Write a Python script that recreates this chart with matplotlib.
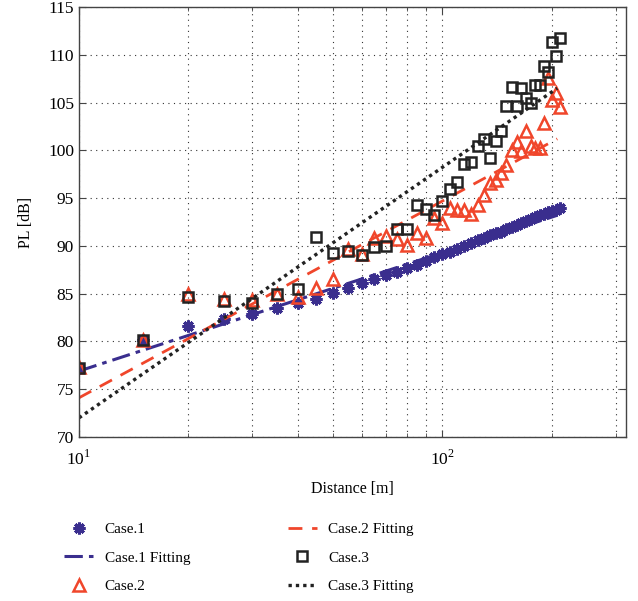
import matplotlib
matplotlib.use("Agg")
import matplotlib.pyplot as plt
from matplotlib.ticker import LogLocator, NullFormatter, FixedLocator

plt.rcParams["font.family"] = ["Liberation Serif", "DejaVu Serif"]
plt.rcParams["mathtext.fontset"] = "custom"
plt.rcParams["mathtext.rm"] = "Liberation Serif"

# distance grid [m]
dist = [10, 15, 20, 25, 30, 35, 40, 45, 50, 55, 60, 65, 70, 75, 80, 85, 90, 95, 100,
        105, 110, 115, 120, 125, 130, 135, 140, 145, 150, 155, 160, 165, 170, 175,
        180, 185, 190, 195, 200, 205, 210]

case1 = [77.2, 80.1, 81.6, 82.3, 82.9, 83.5, 84.0, 84.4, 85.1, 85.6, 86.1, 86.5, 86.9,
         87.3, 87.7, 88.0, 88.4, 88.8, 89.1, 89.4, 89.7, 90.0, 90.3, 90.6, 90.8, 91.1,
         91.3, 91.5, 91.8, 92.0, 92.2, 92.4, 92.6, 92.8, 93.0, 93.2, 93.3, 93.5, 93.7,
         93.8, 94.0]

case2 = [77.3, 80.2, 85.0, 84.4, 84.3, 85.0, 84.7, 85.6, 86.5, 89.7, 89.2, 90.8, 91.0,
         90.7, 90.1, 91.3, 90.8, 92.9, 92.4, 94.0, 93.8, 93.8, 93.3, 94.3, 95.3, 96.6,
         96.9, 97.6, 98.5, 100.0, 100.9, 99.9, 102.0, 100.5, 100.2, 100.2, 102.9, 107.6,
         105.3, 106.0, 104.5]

case3 = [77.2, 80.1, 84.7, 84.25, 84.05, 85.0, 85.5, 90.9, 89.3, 89.5, 89.0, 89.9, 90.0,
         91.8, 91.8, 94.3, 93.9, 93.2, 94.7, 96.0, 96.7, 98.6, 98.8, 100.4, 101.2, 99.2,
         101.0, 102.0, 104.6, 106.6, 104.6, 106.5, 105.5, 104.9, 106.8, 106.8, 108.8,
         108.2, 111.3, 109.9, 111.8]

# fitted lines (end points)
fit_dist = [10, 207]
case1_fit = [76.9, 93.2]
case2_fit = [74.1, 101.2]
case3_fit = [72.0, 106.5]

BLUE = "#3a2e8e"
RED = "#f0462b"
BLACK = "#222222"

fig = plt.figure(figsize=(6.38, 6.01), dpi=100)
ax = fig.add_axes([0.1238, 0.2729, 0.8574, 0.7155])

ax.plot(dist, case1, linestyle="none", marker=(8, 2, 0), ms=8.5, mew=2.2,
        color=BLUE, label="Case.1")
ax.plot(fit_dist, case1_fit, linestyle="-.", lw=2.2, color=BLUE,
        dashes=(6, 2, 1.5, 2), label="Case.1 Fitting")
ax.plot(dist, case2, linestyle="none", marker="^", ms=9, mfc="none", mec=RED,
        mew=1.8, label="Case.2")
ax.plot(fit_dist, case2_fit, linestyle="--", lw=2.0, color=RED,
        dashes=(5, 3.5), label="Case.2 Fitting")
ax.plot(dist, case3, linestyle="none", marker="s", ms=7.5, mfc="none", mec=BLACK,
        mew=1.8, label="Case.3")
ax.plot(fit_dist, case3_fit, linestyle=":", lw=2.4, color=BLACK,
        dashes=(1, 1.2), label="Case.3 Fitting")

ax.set_xscale("log")
ax.set_xlim(10, 320)
ax.set_ylim(70, 115)
ax.set_yticks(range(70, 116, 5))
ax.xaxis.set_major_locator(FixedLocator([10, 100]))
ax.xaxis.set_minor_locator(LogLocator(base=10, subs=range(2, 10), numticks=10))
ax.xaxis.set_minor_formatter(NullFormatter())
ax.set_xticklabels([r"$10^1$", r"$10^2$"])

ax.grid(True, which="both", linestyle=(0, (1, 4)), color="#333333", lw=0.8)
ax.tick_params(which="both", direction="in", top=True, right=True, labelsize=12.5,
               color="#444444")
ax.tick_params(which="major", length=5)
ax.tick_params(which="minor", length=3)
ax.tick_params(axis="x", pad=9)
for s in ax.spines.values():
    s.set_color("#444444")
    s.set_linewidth(1.0)

ax.set_xlabel("Distance [m]", fontsize=11.5, labelpad=9)
ax.set_ylabel("PL [dB]", fontsize=11.5, labelpad=10)

fig.legend(loc="upper left", bbox_to_anchor=(0.079, 0.153), ncol=2, frameon=False,
           fontsize=11, handlelength=1.9, columnspacing=6.4, labelspacing=0.95,
           handletextpad=0.75)

plt.savefig("out.png", dpi=100)
